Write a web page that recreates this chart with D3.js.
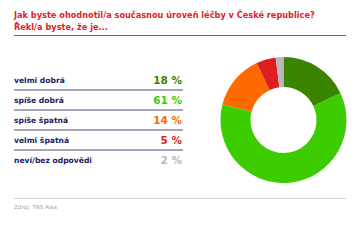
<!DOCTYPE html>
<html>
<head>
<meta charset="utf-8">
<script src="https://cdn.jsdelivr.net/npm/d3@7.9.0/dist/d3.min.js"></script>
<style>
  body { margin: 0; background: #fff; }
  svg { display: block; font-family: "DejaVu Sans", sans-serif; }
</style>
</head>
<body>
<svg width="360" height="240"></svg>
<script>
// data
const titleLines = ['Jak byste ohodnotil/a současnou úroveň léčby v České republice?', 'Řekl/a byste, že je...'];
const labels = ['velmi dobrá', 'spíše dobrá', 'spíše špatná', 'velmi špatná', 'neví/bez odpovědi'];
const values = [18, 61, 14, 5, 2];
const colors = ['#3a8400', '#3dcc00', '#ff6a00', '#de1f1f', '#b9b9bd'];
const source = 'Zdroj: TNS Aisa';

const svg = d3.select('svg');

// title
svg.selectAll('text.title')
  .data(titleLines)
  .join('text')
  .attr('class', 'title')
  .attr('x', 14)
  .attr('y', (d, i) => 18 + i * 12)
  .attr('fill', '#d9252b')
  .attr('font-size', 8.2)
  .attr('font-weight', 'bold')
  .text(d => d);

svg.append('line')
  .attr('x1', 14).attr('x2', 346)
  .attr('y1', 35.5).attr('y2', 35.5)
  .attr('stroke', '#e0353a').attr('stroke-width', 1);

// table rows
let y = d3.scaleBand().domain(labels).range([70, 170]);

labels.forEach((lab, i) => {
  let yc = y(lab) + y.bandwidth() / 2;
  svg.append('text')
    .attr('x', 14).attr('y', yc + 3)
    .attr('fill', '#22235e')
    .attr('font-size', 7.6)
    .attr('font-weight', 'bold')
    .text(lab);
  svg.append('text')
    .attr('x', 182).attr('y', yc + 4)
    .attr('text-anchor', 'end')
    .attr('fill', colors[i])
    .attr('font-size', 10.5)
    .attr('font-weight', 'bold')
    .text(values[i] + ' %');
  if (i < labels.length - 1) {
    svg.append('line')
      .attr('x1', 14).attr('x2', 183)
      .attr('y1', y(lab) + y.bandwidth()).attr('y2', y(lab) + y.bandwidth())
      .attr('stroke', '#4a4b78').attr('stroke-width', 1);
  }
});

// donut
let pie = d3.pie().sort(null).value(d => d);
let arc = d3.arc().innerRadius(33).outerRadius(63);
let g = svg.append('g').attr('transform', 'translate(283.5,120)');
g.selectAll('path')
  .data(pie(values))
  .join('path')
  .attr('d', arc)
  .attr('fill', (d, i) => colors[i]);

// footer
svg.append('line')
  .attr('x1', 14).attr('x2', 346)
  .attr('y1', 198.5).attr('y2', 198.5)
  .attr('stroke', '#d4d4d4').attr('stroke-width', 1);

svg.append('text')
  .attr('x', 14).attr('y', 209)
  .attr('fill', '#a0a0a0')
  .attr('font-size', 5.6)
  .text(source);
</script>
</body>
</html>
